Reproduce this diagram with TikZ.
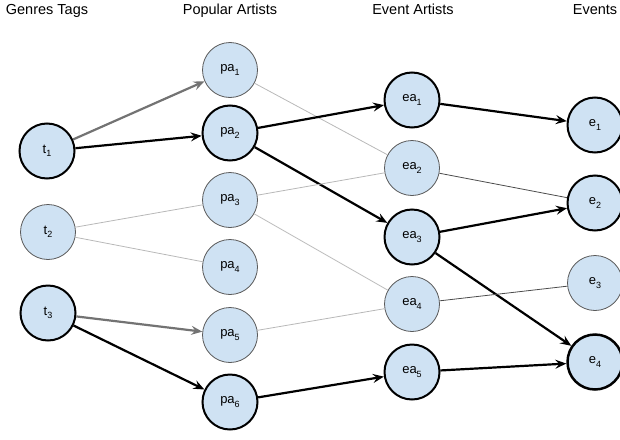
\documentclass[tikz,border=0pt]{standalone}
\usepackage{fontspec}
\setmainfont{Liberation Sans}
\usetikzlibrary{arrows.meta}
\definecolor{nodeblue}{HTML}{CFE2F3}
\newcommand{\lowidx}[1]{\raisebox{-3.5pt}{\fontsize{9}{9}\selectfont #1}}
\begin{document}
\begin{tikzpicture}[x=1pt, y=-1pt]
            \tikzstyle{vtx} = [circle, fill=nodeblue, draw=black!65, line width=0.8pt, minimum size=55pt, inner sep=0pt, font=\fontsize{13}{15}\selectfont]
            \tikzstyle{vtxbold} = [vtx, draw=black, line width=2pt]
            \tikzstyle{heading} = [anchor=base, font=\fontsize{14.5}{17}\selectfont]
            \tikzstyle{link} = [line width=2.2pt, -{Stealth[length=11pt, width=9pt, inset=4pt]}]
            \tikzstyle{greylink} = [link, color=black!55]
            \tikzstyle{faint} = [line width=0.8pt, color=black!28]
            \tikzstyle{dim} = [line width=0.8pt, color=black!70]
            \useasboundingbox (0, 0) rectangle (620, 439);

            \node[heading] (h1) at (47, 14.5) {Genres Tags};
            \node[heading] (h2) at (230, 14.5) {Popular Artists};
            \node[heading] (h3) at (413, 14.5) {Event Artists};
            \node[heading] (h4) at (595, 14.5) {Events};

            % genre tags
            \node[vtxbold] (t1) at (47, 151) {t\lowidx{1}};
            \node[vtx] (t2) at (48, 232) {t\lowidx{2}};
            \node[vtxbold] (t3) at (48, 313) {t\lowidx{3}};

            % popular artists
            \node[vtx] (pa1) at (230, 70) {pa\lowidx{1}};
            \node[vtxbold] (pa2) at (230, 133) {pa\lowidx{2}};
            \node[vtx] (pa3) at (230, 200) {pa\lowidx{3}};
            \node[vtx] (pa4) at (230, 267) {pa\lowidx{4}};
            \node[vtx] (pa5) at (230, 335) {pa\lowidx{5}};
            \node[vtxbold] (pa6) at (230, 402) {pa\lowidx{6}};

            % event artists
            \node[vtxbold] (ea1) at (412, 100) {ea\lowidx{1}};
            \node[vtx] (ea2) at (412, 168) {ea\lowidx{2}};
            \node[vtxbold] (ea3) at (412, 237) {ea\lowidx{3}};
            \node[vtx] (ea4) at (412, 304) {ea\lowidx{4}};
            \node[vtxbold] (ea5) at (412, 372) {ea\lowidx{5}};

            % events
            \node[vtxbold] (e1) at (595, 125) {e\lowidx{1}};
            \node[vtxbold] (e2) at (595, 203) {e\lowidx{2}};
            \node[vtx] (e3) at (595, 283) {e\lowidx{3}};
            \node[vtxbold, line width=2.5pt] (e4) at (595, 362) {e\lowidx{4}};

            \draw[greylink] (t1) -- (pa1);
            \draw[link] (t1) -- (pa2);
            \draw[faint] (t2) -- (pa3);
            \draw[faint] (t2) -- (pa4);
            \draw[greylink] (t3) -- (pa5);
            \draw[link] (t3) -- (pa6);

            \draw[faint] (pa1) -- (ea2);
            \draw[link] (pa2) -- (ea1);
            \draw[link] (pa2) -- (ea3);
            \draw[faint] (pa3) -- (ea2);
            \draw[faint] (pa3) -- (ea4);
            \draw[faint] (pa5) -- (ea4);
            \draw[link] (pa6) -- (ea5);

            \draw[link] (ea1) -- (e1);
            \draw[dim] (ea2) -- (e2);
            \draw[link] (ea3) -- (e2);
            \draw[link] (ea3) -- (e4);
            \draw[dim] (ea4) -- (e3);
            \draw[link] (ea5) -- (e4);
        \end{tikzpicture}
\end{document}
